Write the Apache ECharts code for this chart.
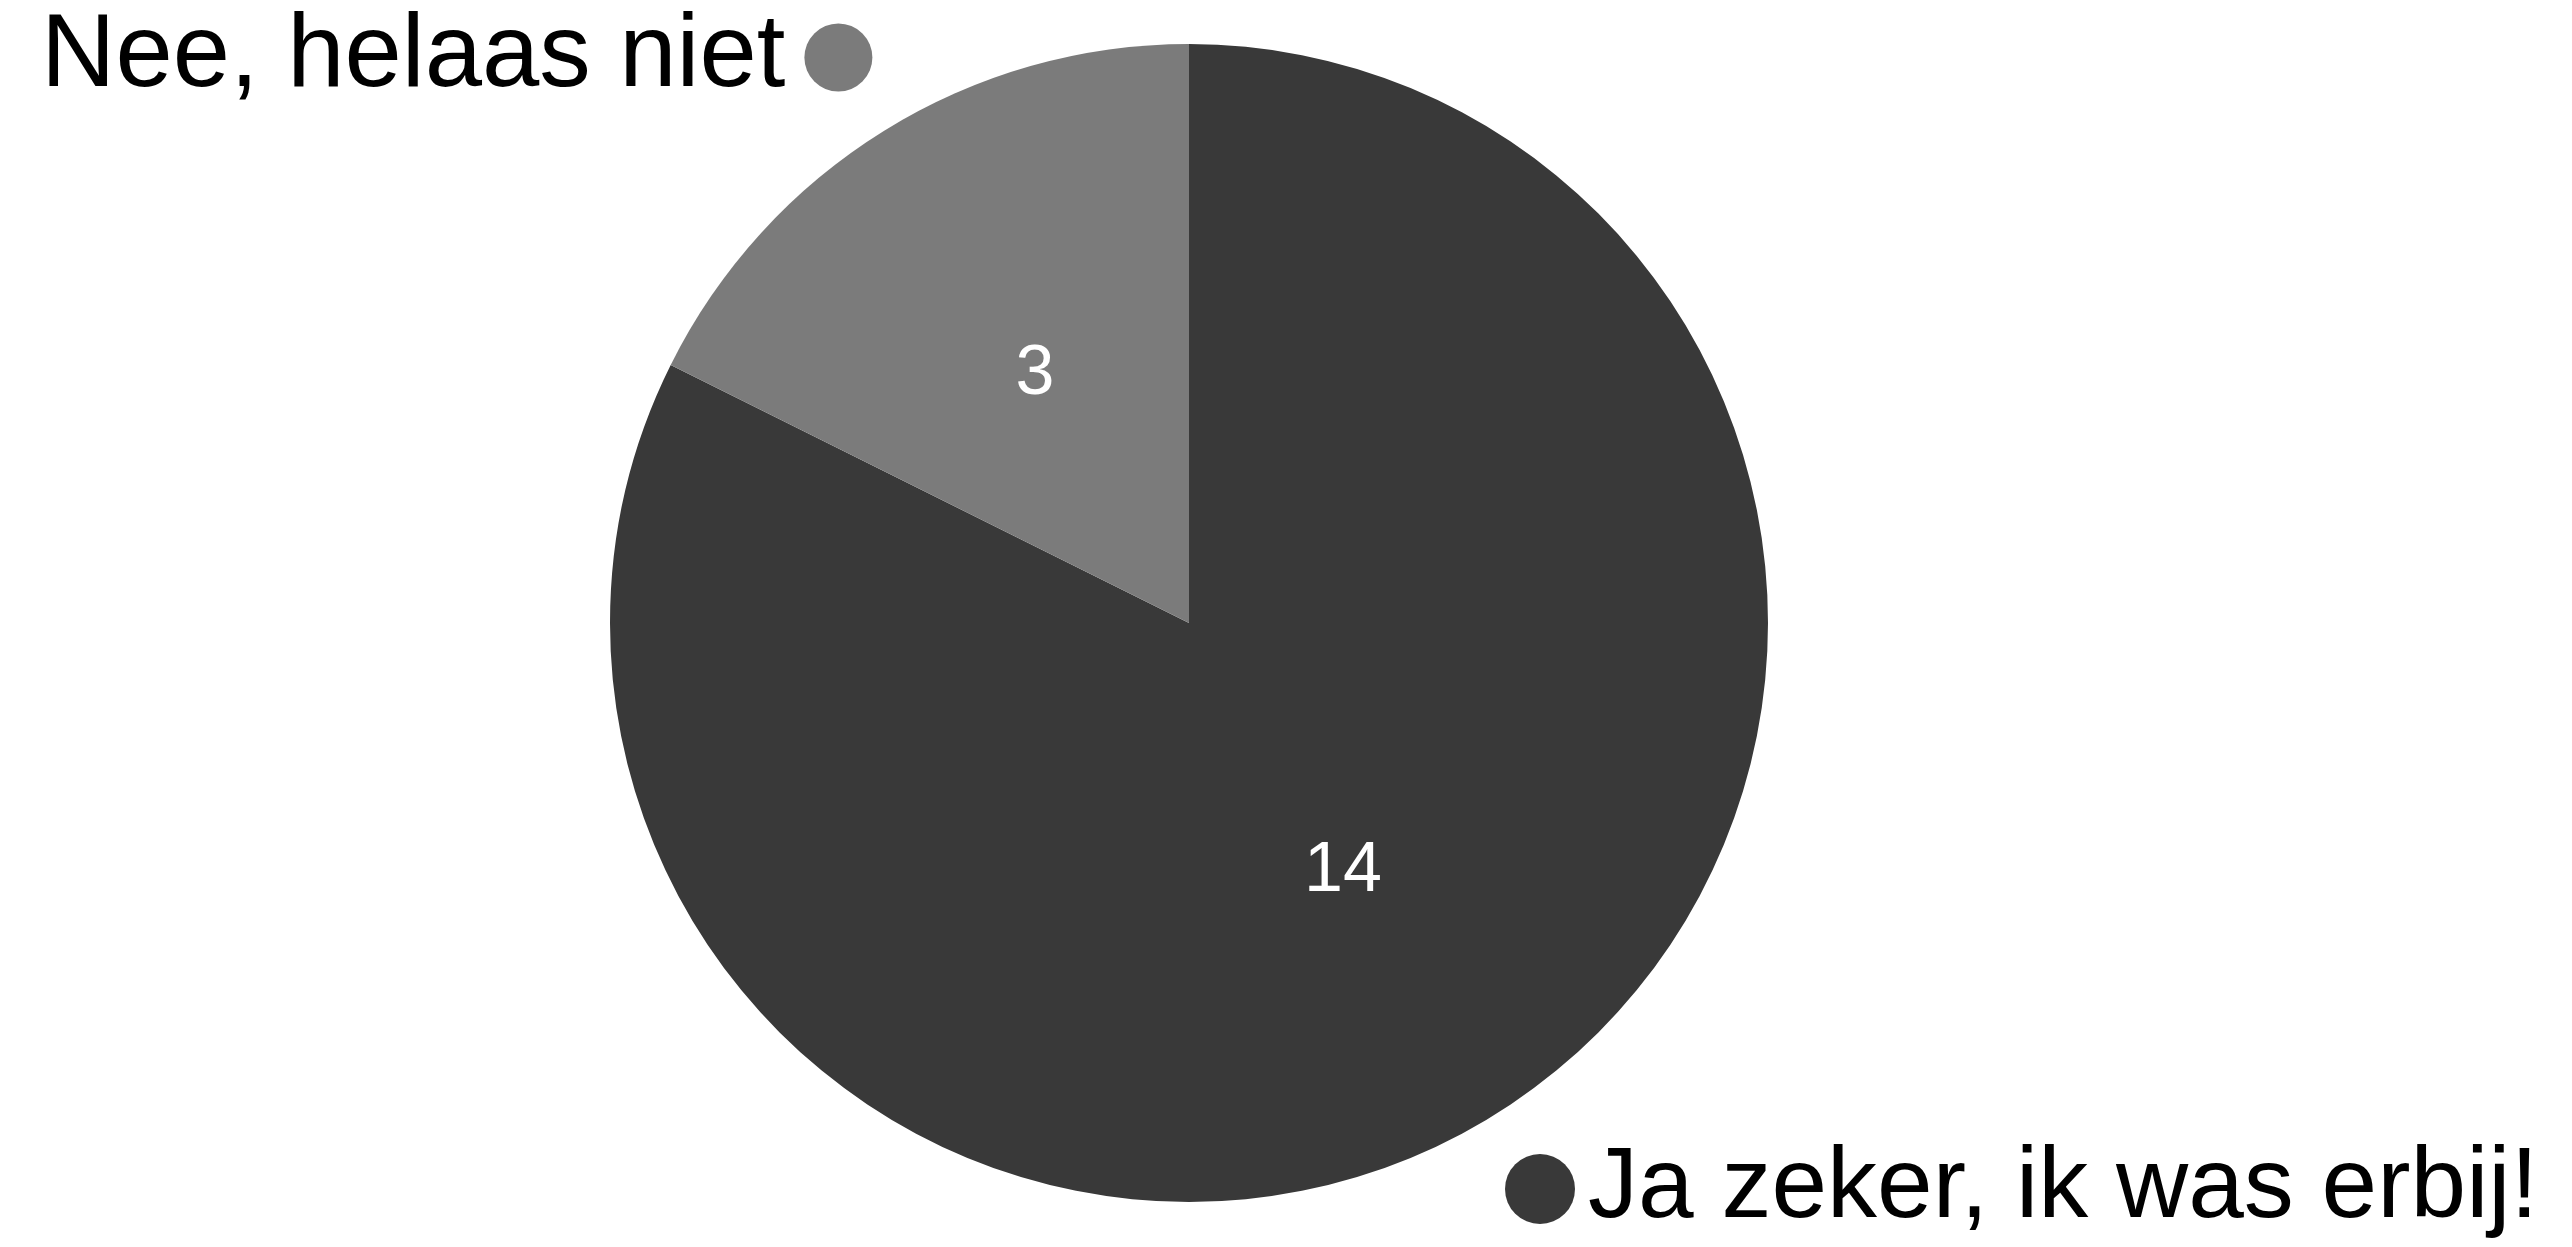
<!DOCTYPE html>
<html>
<head>
<meta charset="utf-8">
<script src="https://cdn.jsdelivr.net/npm/echarts@6/dist/echarts.min.js"></script>
<style>
html,body{margin:0;padding:0;background:#fff;}
#chart{width:2572px;height:1247px;}
</style>
</head>
<body>
<div id="chart"></div>
<script>
const categories = ['Ja zeker, ik was erbij!', 'Nee, helaas niet'];
const values = [14, 3];
const colors = ['#393939', '#7b7b7b'];

const chart = echarts.init(document.getElementById('chart'));
const seriesData = categories.map((c, i) => ({
  name: c,
  value: values[i],
  itemStyle: { color: colors[i] }
}));

chart.setOption({
  animation: false,
  backgroundColor: '#ffffff',
  legend: [
    {
      data: [categories[1]],
      left: 41,
      top: 6,
      padding: 0,
      align: 'right',
      icon: 'circle',
      itemWidth: 68,
      itemHeight: 68,
      selectedMode: false,
      textStyle: { fontFamily: 'Liberation Sans', fontSize: 103, color: '#000', padding: [0, 14, 0, 0] }
    },
    {
      data: [categories[0]],
      left: 1505,
      top: 1139,
      padding: 0,
      align: 'left',
      icon: 'circle',
      itemWidth: 70,
      itemHeight: 70,
      selectedMode: false,
      textStyle: { fontFamily: 'Liberation Sans', fontSize: 100, color: '#000', padding: [0, 0, 0, 8] }
    }
  ],
  series: [{
    type: 'pie',
    center: [1189, 623],
    radius: 579,
    startAngle: 90,
    clockwise: true,
    emphasis: { disabled: true },
    label: {
      show: true,
      position: 'inside',
      formatter: '{c}',
      color: '#ffffff',
      fontFamily: 'Liberation Sans',
      fontSize: 70
    },
    labelLine: { show: false },
    itemStyle: { borderWidth: 0 },
    data: seriesData
  }]
});
</script>
</body>
</html>
